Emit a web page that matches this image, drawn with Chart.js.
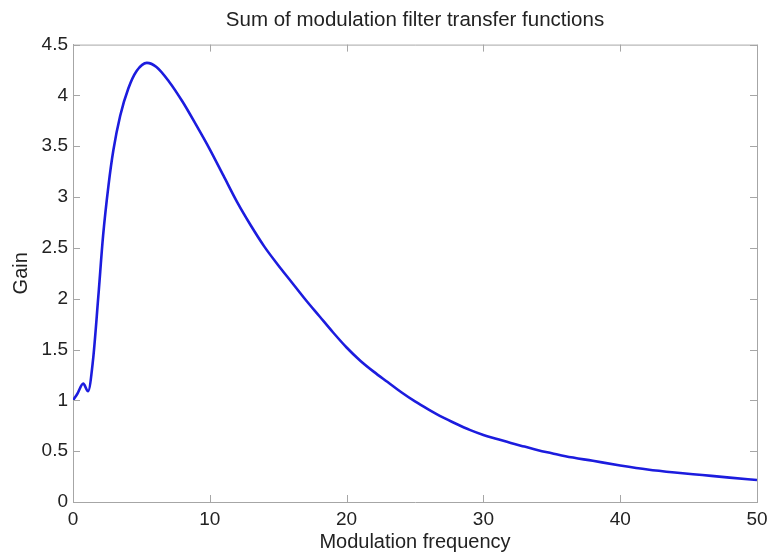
<!DOCTYPE html>
<html lang="en">
<head>
    <meta charset="UTF-8">
    <title>Sum of modulation filter transfer functions</title>
    <script src="https://cdn.jsdelivr.net/npm/chart.js"></script>
    <style>
        html, body { margin: 0; padding: 0; background: #fff; }
        #chartContainer { width: 768px; height: 554px; }
    </style>
</head>
<body>
    <div id="chartContainer">
        <canvas id="gainChart" width="768" height="554"></canvas>
    </div>

    <script>
        // values
        var freqs = [0, 0.3, 0.75, 1.1, 1.45, 1.85, 2.2, 2.6, 2.95, 3.45, 4.05, 4.65, 5.4, 6.1, 7, 8, 9,
                     10, 11, 12, 13, 14, 15, 16, 17, 18, 19, 20, 21, 22, 23, 24, 25, 26, 27, 28, 29,
                     30, 31, 32, 33, 34, 35, 36, 38, 40, 42, 44, 46, 48, 50];
        var gains = [1.0, 1.06, 1.165, 1.09, 1.38, 2.02, 2.62, 3.12, 3.46, 3.8, 4.07, 4.24, 4.32, 4.28, 4.14, 3.94, 3.71,
                     3.47, 3.21, 2.95, 2.72, 2.51, 2.33, 2.16, 1.99, 1.83, 1.67, 1.52, 1.39, 1.28, 1.18, 1.08, 0.99, 0.91, 0.835, 0.77, 0.71,
                     0.66, 0.62, 0.58, 0.545, 0.51, 0.48, 0.45, 0.405, 0.36, 0.32, 0.29, 0.265, 0.24, 0.216];
        var xTicks = [0, 10, 20, 30, 40, 50];
        var yTicks = [0, 0.5, 1, 1.5, 2, 2.5, 3, 3.5, 4, 4.5];

        var FONT = "'Liberation Sans', Arial, sans-serif";
        var AXIS_GREY = '#a6a6a6';
        var TEXT = '#222';

        // matlab style box with inward ticks
        var boxTicks = {
            id: 'boxTicks',
            afterDraw: function (chart) {
                var ctx = chart.ctx;
                var a = chart.chartArea;
                var xs = chart.scales.x, ys = chart.scales.y;
                var len = 7;
                ctx.save();
                ctx.strokeStyle = AXIS_GREY;
                ctx.lineWidth = 1;
                ctx.beginPath();
                ctx.moveTo(a.left, a.top + 0.5);
                ctx.lineTo(a.right + 0.5, a.top + 0.5);
                ctx.lineTo(a.right + 0.5, a.bottom);
                xTicks.forEach(function (v) {
                    var px = Math.round(xs.getPixelForValue(v)) + 0.5;
                    ctx.moveTo(px, a.bottom);
                    ctx.lineTo(px, a.bottom - len);
                    ctx.moveTo(px, a.top);
                    ctx.lineTo(px, a.top + len);
                });
                yTicks.forEach(function (v) {
                    var py = Math.round(ys.getPixelForValue(v)) + 0.5;
                    ctx.moveTo(a.left, py);
                    ctx.lineTo(a.left + len, py);
                    ctx.moveTo(a.right, py);
                    ctx.lineTo(a.right - len, py);
                });
                ctx.stroke();
                ctx.restore();
            }
        };

        var ctx = document.getElementById('gainChart').getContext('2d');
        var gainChart = new Chart(ctx, {
            type: 'line',
            data: {
                datasets: [{
                    label: 'Gain',
                    data: freqs.map(function (f, i) { return { x: f, y: gains[i] }; }),
                    borderColor: 'rgb(28, 28, 222)',
                    borderWidth: 2.6,
                    pointRadius: 0,
                    fill: false,
                    cubicInterpolationMode: 'monotone'
                }]
            },
            options: {
                responsive: false,
                animation: false,
                layout: { padding: { left: 0, right: 11, top: 0, bottom: 0 } },
                plugins: {
                    legend: { display: false },
                    tooltip: { enabled: false },
                    title: {
                        display: true,
                        fullSize: false,
                        text: 'Sum of modulation filter transfer functions',
                        color: TEXT,
                        font: { family: FONT, size: 20.5, weight: 'normal' },
                        padding: { top: 8, bottom: 12 }
                    }
                },
                scales: {
                    x: {
                        type: 'linear',
                        min: 0,
                        max: 50,
                        afterFit: function (scale) {
                            scale.height = 52;
                            scale.paddingRight = 0;
                            scale.paddingLeft = 0;
                        },
                        afterBuildTicks: function (scale) {
                            scale.ticks = xTicks.map(function (v) { return { value: v }; });
                        },
                        ticks: {
                            color: TEXT, font: { family: FONT, size: 19 }, padding: 6, maxRotation: 0,
                            callback: function (v) { return String(v); }
                        },
                        grid: { drawOnChartArea: false, drawTicks: false },
                        border: { color: AXIS_GREY, width: 1 },
                        title: {
                            display: true,
                            text: 'Modulation frequency',
                            color: TEXT,
                            font: { family: FONT, size: 20 },
                            padding: { top: 0, bottom: 0 }
                        }
                    },
                    y: {
                        min: 0,
                        max: 4.5,
                        afterFit: function (scale) { scale.width = 73; },
                        afterBuildTicks: function (scale) {
                            scale.ticks = yTicks.map(function (v) { return { value: v }; });
                        },
                        ticks: {
                            color: TEXT, font: { family: FONT, size: 19 }, padding: 5,
                            callback: function (v) { return String(v); }
                        },
                        grid: { drawOnChartArea: false, drawTicks: false },
                        border: { color: AXIS_GREY, width: 1 },
                        title: {
                            display: true,
                            text: 'Gain',
                            color: TEXT,
                            font: { family: FONT, size: 20 },
                            padding: { top: 9, bottom: 0 }
                        }
                    }
                }
            },
            plugins: [boxTicks]
        });
    </script>
</body>
</html>
